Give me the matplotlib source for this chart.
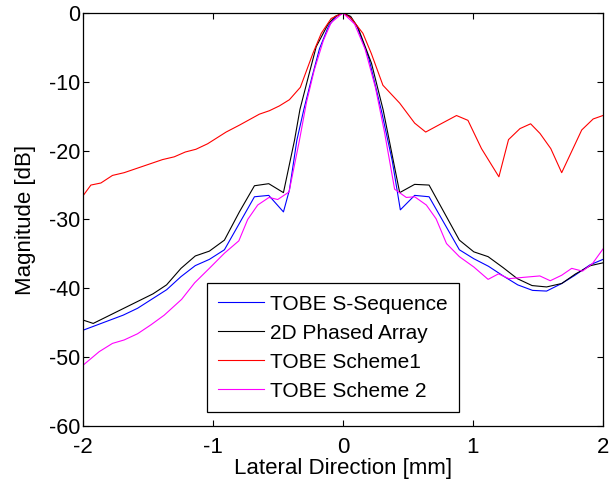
import numpy as np
import matplotlib.pyplot as plt

plt.rcParams['font.family'] = ['Liberation Sans', 'DejaVu Sans']
plt.rcParams['axes.unicode_minus'] = False

# vertices (lateral position [mm], magnitude [dB])
x_black = [-2.0, -1.92, -1.46, -1.356, -1.245, -1.135, -1.027, -0.911, -0.796, -0.68, -0.57,
           -0.457, -0.372, -0.33, -0.27, -0.205, -0.116, -0.06, 0.0, 0.06, 0.116, 0.22,
           0.31, 0.437, 0.552, 0.663, 0.896, 1.007, 1.117, 1.233, 1.342, 1.455, 1.567,
           1.683, 1.79, 1.905, 2.0]
y_black = [-44.6, -45.1, -40.8, -39.5, -37.1, -35.3, -34.6, -33.0, -28.9, -25.1, -24.8,
           -26.1, -18.5, -14.0, -9.6, -4.9, -1.7, -0.5, 0.0, -0.5, -2.1, -7.3,
           -14.1, -26.1, -24.9, -25.0, -33.0, -34.7, -35.4, -37.0, -38.6, -39.6, -39.8,
           -39.3, -37.9, -36.7, -36.3]

x_blue = [-2.0, -1.69, -1.579, -1.355, -1.245, -1.135, -1.027, -0.911, -0.68, -0.57,
          -0.457, -0.411, -0.354, -0.3, -0.24, -0.18, -0.11, -0.05, 0.0, 0.05, 0.11, 0.2,
          0.3, 0.38, 0.442, 0.552, 0.663, 0.896, 1.007, 1.12, 1.233, 1.345, 1.459, 1.567,
          1.683, 1.785, 1.9, 2.0]
y_blue = [-46.1, -43.9, -42.9, -40.2, -38.3, -36.7, -35.8, -34.4, -26.7, -26.5,
          -28.9, -25.7, -18.5, -14.0, -9.5, -5.2, -1.9, -0.5, 0.0, -0.5, -2.0, -6.6,
          -14.5, -21.5, -28.6, -26.5, -26.7, -34.4, -35.7, -36.8, -38.2, -39.5, -40.3, -40.4,
          -39.3, -38.1, -36.6, -35.8]

x_red = [-2.0, -1.938, -1.861, -1.772, -1.682, -1.387, -1.297, -1.212, -1.13, -1.04,
         -0.898, -0.796, -0.719, -0.642, -0.565, -0.488, -0.411, -0.327, -0.231, -0.166,
         -0.09, 0.0, 0.065, 0.154, 0.219, 0.308, 0.437, 0.552, 0.637, 0.745, 0.874,
         0.962, 1.066, 1.2, 1.274, 1.362, 1.444, 1.516, 1.599, 1.683, 1.837, 1.925, 2.0]
y_red = [-26.6, -25.0, -24.7, -23.6, -23.2, -21.3, -20.9, -20.2, -19.8, -19.0,
         -17.3, -16.3, -15.5, -14.7, -14.2, -13.5, -12.6, -10.8, -5.9, -2.95,
         -0.8, 0.0, -0.8, -2.95, -5.9, -10.5, -13.1, -16.0, -17.3, -16.2, -14.9,
         -15.6, -19.7, -23.8, -18.4, -16.8, -16.1, -17.5, -19.7, -23.2, -17.0, -15.4, -14.9]

x_mag = [-2.0, -1.874, -1.772, -1.682, -1.579, -1.476, -1.374, -1.24, -1.14, -1.027,
         -0.911, -0.80, -0.732, -0.655, -0.568, -0.501, -0.414, -0.334, -0.28, -0.22,
         -0.15, -0.09, 0.0, 0.09, 0.17, 0.25, 0.32, 0.398, 0.488, 0.552, 0.642, 0.717,
         0.797, 0.896, 1.007, 1.117, 1.197, 1.277, 1.393, 1.515, 1.595, 1.683, 1.76,
         1.843, 1.92, 2.0]
y_mag = [-51.2, -49.2, -48.0, -47.5, -46.6, -45.3, -43.9, -41.6, -39.2, -37.1,
         -34.9, -33.1, -30.0, -27.9, -26.8, -27.1, -26.0, -18.5, -13.0, -8.3,
         -4.0, -1.4, 0.0, -1.6, -5.2, -10.8, -17.3, -25.6, -26.8, -26.7, -27.9, -29.9,
         -33.5, -35.4, -36.9, -38.7, -37.9, -38.6, -38.4, -38.2, -38.9, -38.1, -37.1,
         -37.5, -36.4, -34.3]

fig = plt.figure(figsize=(6.09, 4.8), dpi=100)
ax = fig.add_axes([0.136, 0.1125, 0.854, 0.8605])

ax.plot(x_blue, y_blue, color='blue', lw=0.8, label='TOBE S-Sequence')
ax.plot(x_black, y_black, color='black', lw=0.8, label='2D Phased Array')
ax.plot(x_red, y_red, color='red', lw=0.8, label='TOBE Scheme1')
ax.plot(x_mag, y_mag, color='magenta', lw=0.8, label='TOBE Scheme 2')

ax.set_xlim(-2, 2)
ax.set_ylim(-60, 0)
ax.set_xticks([-2, -1, 0, 1, 2])
ax.set_yticks([-60, -50, -40, -30, -20, -10, 0])
ax.tick_params(direction='in', top=True, right=True, length=4, width=0.8)
ax.tick_params(axis='x', labelsize=16, pad=8)
ax.tick_params(axis='y', labelsize=15.5, pad=2)
for s in ax.spines.values():
    s.set_linewidth(0.9)

ax.set_xlabel('Lateral Direction [mm]', fontsize=16, labelpad=0)
ax.set_ylabel('Magnitude [dB]', fontsize=16, labelpad=9)

leg = ax.legend(loc='upper left', bbox_to_anchor=(0.238, 0.346), fontsize=15,
                fancybox=False, framealpha=1, edgecolor='black', borderpad=0.55,
                handlelength=2.2, handletextpad=0.3, labelspacing=0.48,
                borderaxespad=0)
leg.get_frame().set_linewidth(0.9)

fig.savefig('out.png', dpi=100)
